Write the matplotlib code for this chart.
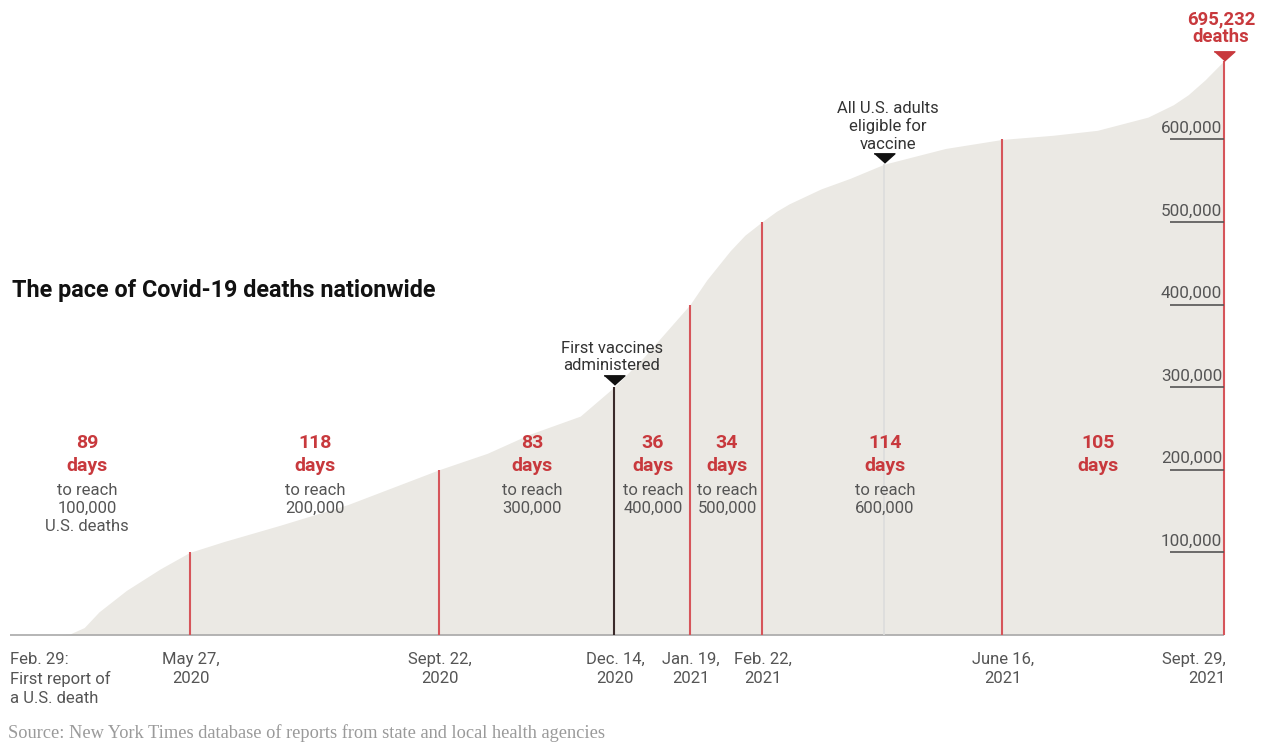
import matplotlib
matplotlib.use("Agg")
import matplotlib.pyplot as plt
import matplotlib.dates as mdates
import numpy as np
import pandas as pd

# ---------------- data ----------------
curve_dates = ["2020-02-29", "2020-03-25", "2020-03-31", "2020-04-07", "2020-04-14",
               "2020-04-27", "2020-05-13", "2020-05-27", "2020-06-12", "2020-07-09",
               "2020-08-10", "2020-09-22", "2020-10-15", "2020-11-04", "2020-11-28",
               "2020-12-14", "2020-12-28", "2021-01-19", "2021-01-27", "2021-02-07",
               "2021-02-14", "2021-02-22", "2021-03-01", "2021-03-07", "2021-03-22",
               "2021-04-05", "2021-04-21", "2021-05-20", "2021-06-16", "2021-07-10",
               "2021-07-31", "2021-08-24", "2021-09-05", "2021-09-12", "2021-09-20",
               "2021-09-29"]
curve_deaths = [0, 0, 1000, 9000, 28000,
                54000, 80000, 100000, 113000, 133000,
                158000, 200000, 220000, 243000, 265000,
                300000, 336000, 400000, 430000, 465000,
                484000, 500000, 513000, 522000, 540000,
                553000, 570000, 589000, 600000, 605000,
                611000, 627000, 642000, 654000, 672000,
                695232]

milestone_dates = ["2020-05-27", "2020-09-22", "2020-12-14", "2021-01-19", "2021-02-22",
                   "2021-06-16", "2021-09-29"]
milestone_deaths = [100000, 200000, 300000, 400000, 500000, 600000, 695232]
milestone_labels = ["May 27,\n2020", "Sept. 22,\n2020", "Dec. 14,\n2020", "Jan. 19,\n2021",
                    "Feb. 22,\n2021", "June 16,\n2021", "Sept. 29,\n2021"]

interval_days = ["89", "118", "83", "36", "34", "114", "105"]
interval_text = ["to reach\n100,000\nU.S. deaths", "to reach\n200,000", "to reach\n300,000",
                 "to reach\n400,000", "to reach\n500,000", "to reach\n600,000", ""]

event_dates = ["2020-12-14", "2021-04-21"]
event_labels = ["First vaccines\nadministered", "All U.S. adults\neligible for\nvaccine"]

y_ticks = [100000, 200000, 300000, 400000, 500000, 600000]
y_tick_labels = ["100,000", "200,000", "300,000", "400,000", "500,000", "600,000"]

start_label = "Feb. 29:\nFirst report of\na U.S. death"
total_label = "695,232\ndeaths"
title = "The pace of Covid-19 deaths nationwide"
source = "Source: New York Times database of reports from state and local health agencies"

# ---------------- style ----------------
W, H = 1268, 742
RED = "#c8393d"
LINE_RED = "#d6555a"
GREY_TXT = "#555555"
FILL = "#ebe9e4"
SMALL = 12
plt.rcParams["font.family"] = ["Roboto", "DejaVu Sans"]

fig = plt.figure(figsize=(W / 100, H / 100), dpi=100)
ax = fig.add_axes([0, 0, 1, 1])
ax.axis("off")

cd = mdates.date2num(pd.to_datetime(curve_dates))
md = mdates.date2num(pd.to_datetime(milestone_dates))
ed = mdates.date2num(pd.to_datetime(event_dates))

# pixel geometry of the plotting area
x0_px, x1_px = 4, 1224          # Feb 29 -> Sept 29
base_px, per100k_px = 635, 82.6
ppd = (x1_px - x0_px) / (md[-1] - cd[0])
ax.set_xlim(cd[0] - x0_px / ppd, md[-1] + (W - x1_px) / ppd)
ax.set_ylim(-(H - base_px) / per100k_px * 1e5, base_px / per100k_px * 1e5)


def fx(xp):
    return xp / W


def fy(yp):
    return 1 - yp / H


# area
ax.fill_between(cd, 0, curve_deaths, color=FILL, lw=0, zorder=1)

# baseline
ax.hlines(0, cd[0] + 6 / ppd, md[-1], color="#a9a9a9", lw=1.2, zorder=2)

# milestone lines
for i, (d, v) in enumerate(zip(md, milestone_deaths)):
    col = "#3a2a2a" if i == 2 else LINE_RED
    ax.vlines(d, 0, v, color=col, lw=1.5, zorder=3)

# event line for adult eligibility (faint)
ev_val = np.interp(ed[1], cd, curve_deaths)
ax.vlines(ed[1], 0, ev_val, color="#dcdcdc", lw=1.2, zorder=2)

tri = [(-1, 0.45), (1, 0.45), (0, -0.45)]
ax.plot([md[2]], [milestone_deaths[2] + 9000], marker=tri, ms=15, color="#111111",
        ls="none", zorder=4)
ax.plot([ed[1]], [ev_val + 8000], marker=tri, ms=15, color="#111111", ls="none", zorder=4)
ax.plot([md[-1]], [milestone_deaths[-1] + 6000], marker=tri, ms=15, color=RED,
        ls="none", zorder=4)

# y tick lines and labels
ax.hlines(y_ticks, md[-1] - 54 / ppd, md[-1], color="#555555", lw=1.2, zorder=3)
for v, lab in zip(y_ticks, y_tick_labels):
    ax.text(md[-1] - 2 / ppd, v + 11 / per100k_px * 1e5, lab, ha="right", va="center",
            fontsize=12.3, color=GREY_TXT, zorder=5)

# x labels
fig.text(fx(10), fy(652), start_label, ha="left", va="top", fontsize=SMALL,
         color=GREY_TXT, linespacing=1.32)
for i, (d, lab) in enumerate(zip(md, milestone_labels)):
    xp = x0_px + (d - cd[0]) * ppd
    if i == len(md) - 1:
        fig.text(fx(xp + 2), fy(652), lab, ha="right", va="top", fontsize=SMALL,
                 color=GREY_TXT, linespacing=1.32, multialignment="right")
    else:
        fig.text(fx(xp + 1), fy(652), lab, ha="center", va="top", fontsize=SMALL,
                 color=GREY_TXT, linespacing=1.32)

# interval labels
mid_px = [87, 315, 532, 653, 727, 885, 1098]
for xp, nd, tx in zip(mid_px, interval_days, interval_text):
    fig.text(fx(xp), fy(443), nd, ha="center", va="center", fontsize=14,
             fontweight="bold", color=RED)
    fig.text(fx(xp), fy(466), "days", ha="center", va="center", fontsize=14,
             fontweight="bold", color=RED)
    if tx:
        fig.text(fx(xp), fy(483), tx, ha="center", va="top", fontsize=SMALL,
                 color=GREY_TXT, linespacing=1.27)

# event labels
fig.text(fx(612), fy(341), event_labels[0], ha="center", va="top", fontsize=SMALL,
         color="#333333", linespacing=1.18)
fig.text(fx(888), fy(101), event_labels[1], ha="center", va="top", fontsize=SMALL,
         color="#333333", linespacing=1.18)

# total label
fig.text(fx(1221), fy(10), total_label, ha="center", va="top", fontsize=13.3,
         fontweight="bold", color=RED, linespacing=1.0)

# title
fig.text(fx(12), fy(290), title, ha="left", va="center", fontsize=16.8,
         fontweight="bold", color="#111111")

# source
fig.text(fx(8), fy(733), source, ha="left", va="center", fontsize=13.2,
         color="#9a9a9a", family=["Liberation Serif", "DejaVu Serif"])

fig.savefig("out.png", dpi=100)
